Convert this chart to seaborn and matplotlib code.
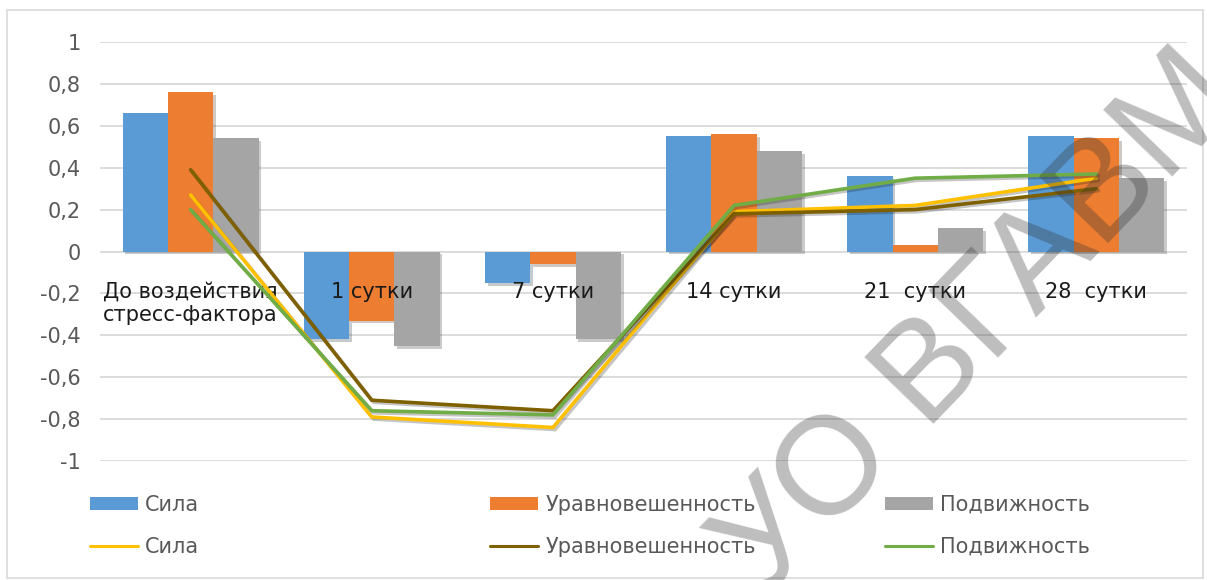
import numpy as np
import pandas as pd
import matplotlib
matplotlib.use("Agg")
import matplotlib.pyplot as plt
import matplotlib.patheffects as pe
from matplotlib.patches import Rectangle, Patch
from matplotlib.lines import Line2D
import seaborn as sns

# ---------------- data ----------------
categories = ["До воздействия\nстресс-фактора", "1 сутки", "7 сутки",
              "14 сутки", "21  сутки", "28  сутки"]
series_names = ["Сила", "Уравновешенность", "Подвижность"]

bar_sila = [0.66, -0.42, -0.15, 0.55, 0.36, 0.55]
bar_urav = [0.76, -0.33, -0.06, 0.56, 0.03, 0.54]
bar_podv = [0.54, -0.45, -0.42, 0.48, 0.11, 0.35]

line_sila = [0.27, -0.79, -0.84, 0.19, 0.22, 0.35]
line_urav = [0.39, -0.71, -0.76, 0.18, 0.20, 0.30]
line_podv = [0.20, -0.76, -0.78, 0.22, 0.35, 0.37]

y_ticks = [1, 0.8, 0.6, 0.4, 0.2, 0, -0.2, -0.4, -0.6, -0.8, -1]
y_tick_labels = ["1", "0,8", "0,6", "0,4", "0,2", "0", "-0,2", "-0,4", "-0,6", "-0,8", "-1"]

watermark = "УО ВГАВМ"

bar_colors = ["#5B9BD5", "#ED7D31", "#A5A5A5"]
line_colors = ["#FFC000", "#7F6000", "#70AD47"]

# ---------------- figure ----------------
sns.set_theme(style="white")
plt.rcParams["font.family"] = ["DejaVu Sans"]

W, H = 1207, 580
fig = plt.figure(figsize=(W / 100, H / 100), dpi=100)
fig.patch.set_facecolor("white")
ax = fig.add_axes([100 / W, 1 - 461 / H, (1187 - 100) / W, (461 - 42) / H])

df = pd.DataFrame({
    "cat": categories * 3,
    "series": sum([[s] * len(categories) for s in series_names], []),
    "val": bar_sila + bar_urav + bar_podv,
})

sns.barplot(data=df, x="cat", y="val", hue="series", order=categories,
            hue_order=series_names, palette=bar_colors, width=0.75,
            saturation=1, linewidth=0, legend=False, ax=ax, zorder=2)
for p in ax.patches:
    p.set_path_effects([pe.SimplePatchShadow(offset=(2, -2), alpha=0.25),
                        pe.Normal()])

xpos = np.arange(len(categories))
for vals, col in zip([line_sila, line_urav, line_podv], line_colors):
    sns.lineplot(x=xpos, y=vals, color=col, linewidth=2.6, ax=ax,
                 legend=False, zorder=4)
for ln in ax.lines:
    ln.set_path_effects([pe.SimpleLineShadow(offset=(1.5, -1.5), alpha=0.25),
                         pe.Normal()])
    ln.set_solid_joinstyle("miter")

# horizontal gridlines behind the bars
for yv in y_ticks:
    ax.axhline(yv, color="#D9D9D9", linewidth=1.3, zorder=0.5)

for s in ax.spines.values():
    s.set_visible(False)
ax.spines["bottom"].set_position(("data", 0))

ax.set_ylim(-1, 1)
ax.set_xlim(-0.5, len(categories) - 0.5)
ax.set_yticks(y_ticks)
ax.set_yticklabels(y_tick_labels, fontsize=15, color="#595959")
ax.set_xticks(xpos)
ax.set_xticklabels(categories, fontsize=15, color="#1a1a1a")
ax.set_xlabel("")
ax.set_ylabel("")
ax.tick_params(axis="y", length=0, pad=14)
ax.tick_params(axis="x", length=0, pad=22)
ax.grid(False)
ax.set_axisbelow(False)   # category labels drawn over the bars
ax.set_facecolor("none")

# ---------------- legend (manual columns) ----------------
legend_x = [90, 490, 885]
for i, name in enumerate(series_names):
    handles = [Patch(facecolor=bar_colors[i], edgecolor="none"),
               Line2D([], [], color=line_colors[i], linewidth=2.2)]
    fig.legend(handles, [name, name], loc="center left",
               bbox_to_anchor=(legend_x[i] / W, 1 - 526 / H),
               frameon=False, fontsize=15, handlelength=2.3,
               handleheight=0.55, handletextpad=0.35,
               labelspacing=1.05, borderpad=0, borderaxespad=0,
               labelcolor="#595959")

# ---------------- border ----------------
fig.patches.append(Rectangle((7 / W, 2 / H), (1203 - 7) / W, (570 - 2) / H,
                             transform=fig.transFigure, fill=False,
                             edgecolor="#D9D9D9", linewidth=1.2))

# ---------------- watermark ----------------
fig.text(980 / W, 1 - 324 / H, watermark, rotation=46, rotation_mode="anchor",
         ha="center", va="center", fontsize=100, family="Liberation Sans",
         color=(0.2, 0.2, 0.2, 0.32), zorder=10)

fig.savefig("out.png", dpi=100, facecolor="white")
